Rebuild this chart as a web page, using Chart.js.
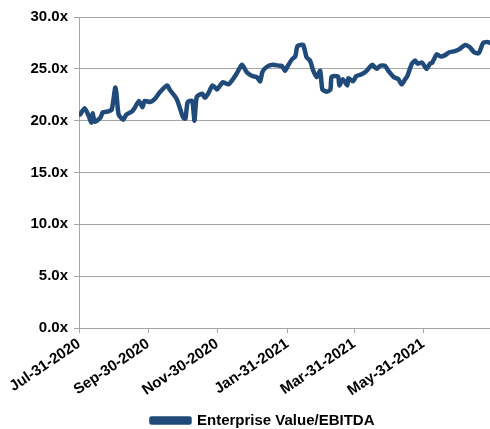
<!DOCTYPE html>
<html>
<head>
<meta charset="utf-8">
<script src="https://cdn.jsdelivr.net/npm/chart.js@4.4.1/dist/chart.umd.min.js"></script>
<style>
  html, body { margin: 0; padding: 0; background: #fff; }
  #wrap { width: 490px; height: 429px; }
</style>
</head>
<body>
<div id="wrap"><canvas id="evChart"></canvas></div>
<script>
// days since Jul-31-2020
const days = [1, 5, 8, 11, 12, 14, 19, 21, 26, 29, 32, 33, 35, 39, 42, 47, 49, 53, 56, 58,
  63, 67, 71, 78, 80, 85, 87, 92, 94, 96, 100, 102, 104, 109, 111, 114, 118, 122, 124, 127,
  132, 136, 139, 144, 148, 153, 157, 160, 162, 166, 171, 177, 179, 182, 184, 188, 191, 193, 198, 201,
  204, 207, 210, 213, 215, 219, 222, 223, 226, 229, 230, 233, 237, 238, 242, 245, 250, 254, 257, 259,
  263, 266, 270, 274, 278, 282, 285, 288, 290, 294, 297, 299, 303, 307, 310, 312, 316, 319, 323, 327,
  332, 336, 341, 345, 349, 353, 357, 361, 363];
const evEbitda = [20.6, 21.2, 20.6, 19.8, 20.7, 19.9, 20.3, 20.8, 20.9, 21.1, 23.2, 22.7, 20.6, 20.1, 20.6, 20.9, 21.2, 21.9, 21.3, 21.9,
  21.8, 22.1, 22.7, 23.4, 23.0, 22.3, 21.9, 20.3, 20.2, 21.8, 21.9, 20.0, 22.3, 22.6, 22.2, 22.6, 23.4, 23.0, 23.3, 23.7,
  23.5, 24.0, 24.5, 25.4, 24.7, 24.3, 24.2, 23.8, 24.7, 25.2, 25.4, 25.3, 25.3, 24.8, 25.2, 25.9, 26.2, 27.2, 27.3, 26.1,
  25.8, 24.8, 24.2, 24.8, 23.0, 22.8, 23.0, 24.2, 24.3, 24.2, 23.4, 24.0, 23.4, 24.1, 23.8, 24.3, 24.5, 24.8, 25.2, 25.4,
  25.0, 25.3, 25.3, 24.7, 24.2, 24.0, 23.5, 24.0, 24.3, 25.5, 25.8, 25.5, 25.6, 25.0, 25.5, 25.6, 26.4, 26.2, 26.3, 26.6,
  26.7, 26.9, 27.3, 27.1, 26.6, 26.5, 27.5, 27.6, 27.5];

const tickDays = [0, 61, 122, 184, 243, 304];
const tickLabels = ['Jul-31-2020', 'Sep-30-2020', 'Nov-30-2020', 'Jan-31-2021', 'Mar-31-2021', 'May-31-2021'];
const yTicks = [0, 5, 10, 15, 20, 25, 30];

const font = { family: '"Liberation Sans", Arial, sans-serif', size: 15, weight: 'bold' };
const gray = '#a6a6a6';

// legend sits a bit right of centre and low in the original
const shiftLegend = {
  id: 'shiftLegend',
  afterLayout(chart) {
    const lg = chart.legend;
    lg.left += 18; lg.right += 18;
    lg.top += 9; lg.bottom += 9;
  }
};

new Chart(document.getElementById('evChart').getContext('2d'), {
  type: 'line',
  data: {
    datasets: [{
      label: 'Enterprise Value/EBITDA',
      data: days.map((d, i) => ({ x: d, y: evEbitda[i] })),
      borderColor: '#1f4a7a',
      backgroundColor: '#1f4a7a',
      borderWidth: 4.5,
      pointRadius: 0,
      tension: 0.2,
      borderJoinStyle: 'round',
      borderCapStyle: 'round'
    }]
  },
  options: {
    responsive: true,
    maintainAspectRatio: false,
    animation: false,
    layout: { padding: { top: 17, right: 0, left: 0, bottom: 0 } },
    plugins: {
      legend: {
        position: 'bottom',
        labels: { color: '#000', font: font, boxWidth: 38, boxHeight: 4, padding: 2 }
      },
      tooltip: { enabled: false }
    },
    scales: {
      x: {
        type: 'linear',
        min: 0,
        max: 363,
        afterBuildTicks: scale => { scale.ticks = tickDays.map(v => ({ value: v })); },
        afterFit: scale => { scale.height = 74; },
        ticks: {
          color: '#000',
          font: font,
          autoSkip: false,
          minRotation: 34,
          maxRotation: 34,
          padding: 2,
          callback: v => tickLabels[tickDays.indexOf(v)]
        },
        grid: { drawOnChartArea: false, color: gray, tickLength: 5 },
        border: { color: gray, width: 1 }
      },
      y: {
        min: 0,
        max: 30,
        afterBuildTicks: scale => { scale.ticks = yTicks.map(v => ({ value: v })); },
        afterFit: scale => { scale.width = 79; },
        ticks: { color: '#000', font: font, padding: 6, callback: v => v.toFixed(1) + 'x' },
        grid: { color: gray, tickLength: 5 },
        border: { color: gray, width: 1 }
      }
    }
  },
  plugins: [shiftLegend]
});
</script>
</body>
</html>
